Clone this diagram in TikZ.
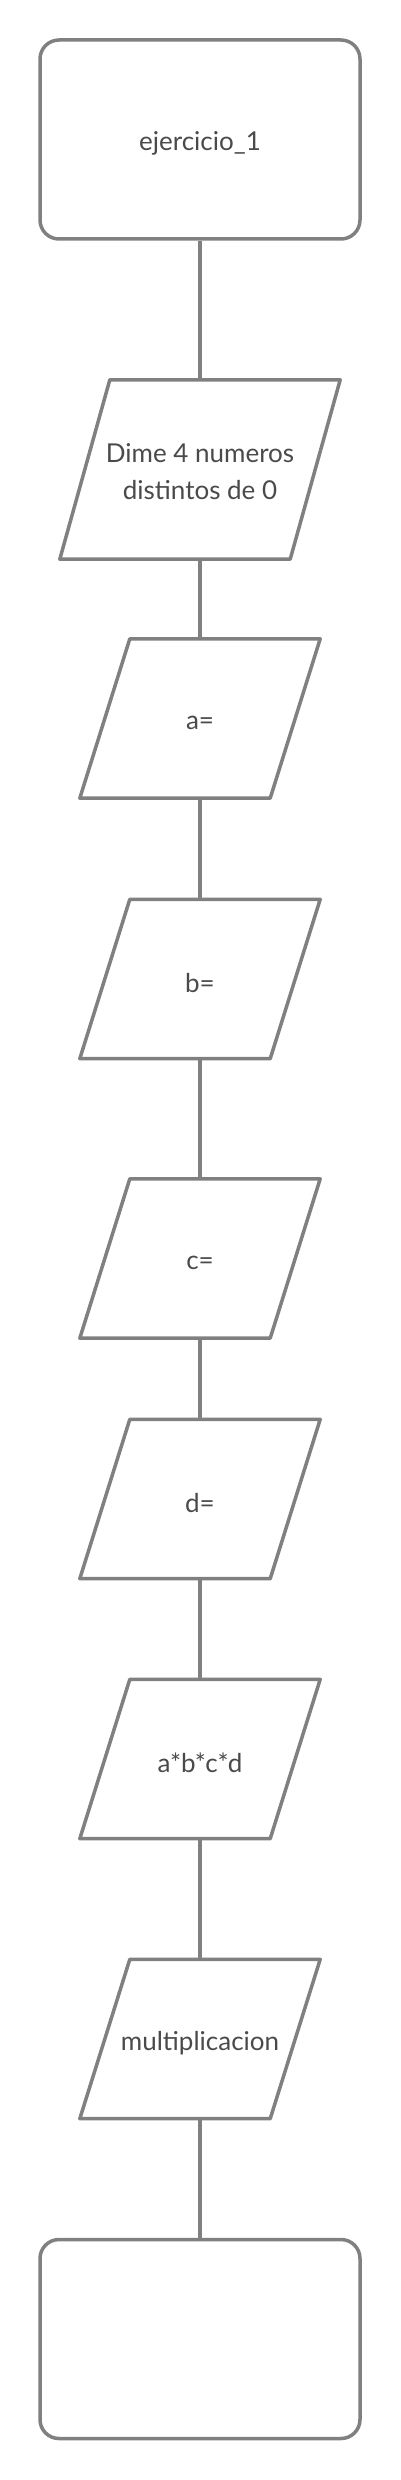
\documentclass[tikz,border=0pt]{standalone}
\usepackage{fontspec}
\setmainfont{Lato}
\usetikzlibrary{calc}
\definecolor{strokegray}{HTML}{808080}
\definecolor{textgray}{HTML}{4A4A4A}
\tikzset{
  shapeline/.style={draw=strokegray, line width=3.5pt, line join=round},
  termbox/.style={shapeline, rounded corners=19pt, minimum width=320pt, minimum height=199pt, inner sep=0pt},
  iobox/.style={inner sep=0pt, minimum width=240pt, minimum height=159pt, text=textgray, align=center, font=\fontsize{26}{37}\selectfont},
  conn/.style={draw=strokegray, line width=3.5pt},
  lbl/.style={text=textgray, font=\fontsize{26}{37}\selectfont, align=center}
}
\newcommand{\pgram}[1]{%
  \draw[shapeline] ($(#1.north west)+(50pt,0)$) -- (#1.north east) -- ($(#1.south east)-(50pt,0)$) -- (#1.south west) -- cycle;}
\newcommand{\lowertxt}[2][4pt]{\raisebox{-#1}[\height][\depth]{#2}}
\begin{document}
\begin{tikzpicture}[x=1pt,y=-1pt]
\useasboundingbox (0,0) rectangle (400,2480);
\node[termbox, lbl] (start) at (200,139.5) {\lowertxt{ejercicio\_1}};
\node[iobox, minimum width=280pt, minimum height=179pt] (ask) at (200,469.5) {\lowertxt[2pt]{Dime 4 numeros}\\\lowertxt[2pt]{distintos de 0}};
\pgram{ask}
\node[iobox] (a) at (200,718.5) {\lowertxt{a=}};
\pgram{a}
\node[iobox] (b) at (200,979) {\lowertxt{b=}};
\pgram{b}
\node[iobox] (c) at (200,1258.5) {\lowertxt{c=}};
\pgram{c}
\node[iobox] (d) at (200,1499) {\lowertxt{d=}};
\pgram{d}
\node[iobox] (prod) at (200,1759) {\lowertxt{a*b*c*d}};
\pgram{prod}
\node[iobox] (mult) at (200,2039) {\lowertxt{multiplicacion}};
\pgram{mult}
\node[termbox] (end) at (200,2339) {};
\draw[conn] (start.south) -- (ask.north);
\draw[conn] (ask.south) -- (a.north);
\draw[conn] (a.south) -- (b.north);
\draw[conn] (b.south) -- (c.north);
\draw[conn] (c.south) -- (d.north);
\draw[conn] (d.south) -- (prod.north);
\draw[conn] (prod.south) -- (mult.north);
\draw[conn] (mult.south) -- (end.north);
\end{tikzpicture}
\end{document}
